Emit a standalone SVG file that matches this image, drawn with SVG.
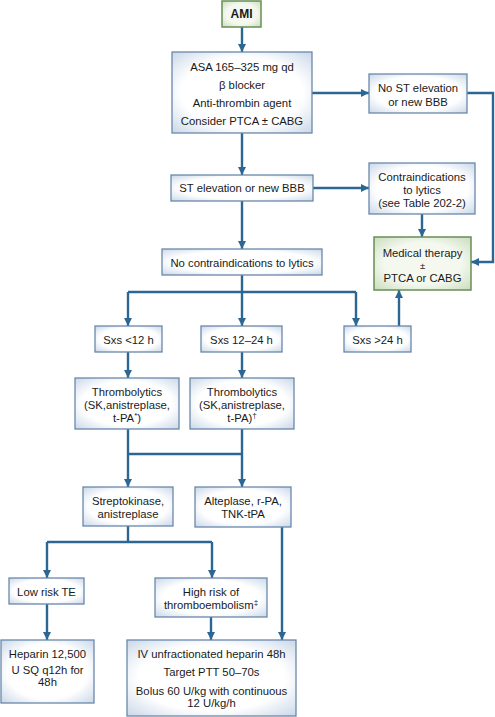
<svg xmlns="http://www.w3.org/2000/svg" width="495" height="717" viewBox="0 0 495 717">
<defs>
<radialGradient id="gb" cx="50%" cy="50%" r="72%">
<stop offset="0.6" stop-color="#ffffff"/>
<stop offset="1" stop-color="#c6d5e7"/>
</radialGradient>
<radialGradient id="gg" cx="50%" cy="50%" r="72%">
<stop offset="0.55" stop-color="#f4f8ef"/>
<stop offset="1" stop-color="#c7dbb9"/>
</radialGradient>
<marker id="ah" markerUnits="userSpaceOnUse" markerWidth="9" markerHeight="10" refX="8" refY="5" orient="auto">
<path d="M0,1 L8,5 L0,9 z" fill="#2c6794"/>
</marker>
</defs>
<style>
.b rect{fill:url(#gb);stroke:#6a88ab;stroke-width:1.3}
.g rect{fill:url(#gg);stroke:#678f55;stroke-width:1.5}
text{font-family:"Liberation Sans",Arial,sans-serif;font-size:11.3px;fill:#1a1a1a;text-anchor:middle}
.c path{fill:none;stroke:#2c6794;stroke-width:2.4}
.a{marker-end:url(#ah)}
</style>
<g class="c" id="connectors">
<path class="a" d="M242 27 V52"/>
<path class="a" d="M312 93 H369"/>
<path class="a" d="M467 93 H493 V262 H471"/>
<path class="a" d="M242 133 V175"/>
<path class="a" d="M313 188 H369"/>
<path class="a" d="M422 214 V237"/>
<path class="a" d="M242 201 V249"/>
<path d="M242 275 V292"/>
<path class="a" d="M128 292 V326"/>
<path class="a" d="M356 292 V326"/>
<path class="a" d="M242 292 V326"/>
<path d="M128 292 H356"/>
<path class="a" d="M399 326 V290"/>
<path class="a" d="M128 352 V378"/>
<path class="a" d="M242 352 V378"/>
<path class="a" d="M128 429 V487"/>
<path class="a" d="M242 429 V487"/>
<path d="M128 454 H242"/>
<path d="M128 526 V542"/>
<path class="a" d="M47 542 V578"/>
<path class="a" d="M212 542 V578"/>
<path d="M47 542 H212"/>
<path class="a" d="M47 604 V640"/>
<path class="a" d="M211 617 V640"/>
<path class="a" d="M282 527 V640"/>
</g>
<g id="ami" class="g"><rect x="222" y="1" width="39" height="26"/><text x="241.5" y="18" style="font-weight:bold;font-size:12px">AMI</text></g>
<g id="initial" class="b"><rect x="172" y="52" width="140" height="81"/>
<text x="242" y="71">ASA 165–325 mg qd</text>
<text x="242" y="89">β blocker</text>
<text x="242" y="107">Anti-thrombin agent</text>
<text x="242" y="125">Consider PTCA ± CABG</text></g>
<g id="nost" class="b"><rect x="369" y="74" width="98" height="39"/>
<text x="418" y="92">No ST elevation</text>
<text x="418" y="106">or new BBB</text></g>
<g id="st" class="b"><rect x="171" y="175" width="142" height="26"/>
<text x="242" y="192">ST elevation or new BBB</text></g>
<g id="contra" class="b"><rect x="369" y="163" width="106" height="51"/>
<text x="422" y="181">Contraindications</text>
<text x="422" y="194">to lytics</text>
<text x="422" y="207">(see Table 202-2)</text></g>
<g id="medical" class="g"><rect x="374" y="237" width="97" height="53"/>
<text x="422.5" y="257">Medical therapy</text>
<text x="422.5" y="269" style="font-size:9.5px">±</text>
<text x="422.5" y="282">PTCA or CABG</text></g>
<g id="nocontra" class="b"><rect x="162" y="249" width="160" height="26"/>
<text x="242" y="267">No contraindications to lytics</text></g>
<g id="sxs12" class="b"><rect x="95" y="326" width="67" height="26"/>
<text x="128.5" y="344">Sxs &lt;12 h</text></g>
<g id="sxs1224" class="b"><rect x="201" y="326" width="81" height="26"/>
<text x="241.5" y="344">Sxs 12–24 h</text></g>
<g id="sxs24" class="b"><rect x="344" y="326" width="67" height="26"/>
<text x="377.5" y="344">Sxs &gt;24 h</text></g>
<g id="thromb1" class="b"><rect x="75" y="378" width="104" height="51"/>
<text x="127" y="396">Thrombolytics</text>
<text x="127" y="409">(SK,anistreplase,</text>
<text x="127" y="422">t-PA<tspan font-size="8" dy="-4">*</tspan><tspan dy="4">)</tspan></text></g>
<g id="thromb2" class="b"><rect x="190" y="378" width="104" height="51"/>
<text x="242" y="396">Thrombolytics</text>
<text x="242" y="409">(SK,anistreplase,</text>
<text x="242" y="422">t-PA)<tspan font-size="8" dy="-4">†</tspan></text></g>
<g id="strepto" class="b"><rect x="83" y="487" width="90" height="39"/>
<text x="128" y="505">Streptokinase,</text>
<text x="128" y="518">anistreplase</text></g>
<g id="alteplase" class="b"><rect x="195" y="487" width="96" height="40"/>
<text x="243" y="505">Alteplase, r-PA,</text>
<text x="243" y="518">TNK-tPA</text></g>
<g id="lowrisk" class="b"><rect x="9" y="578" width="75" height="26"/>
<text x="46.5" y="596">Low risk TE</text></g>
<g id="highrisk" class="b"><rect x="155" y="578" width="112" height="39"/>
<text x="211" y="596">High risk of</text>
<text x="211" y="609">thromboembolism<tspan font-size="8" dy="-4">‡</tspan></text></g>
<g id="heparin" class="b"><rect x="1" y="640" width="93" height="63"/>
<text x="47.5" y="658">Heparin 12,500</text>
<text x="47.5" y="674">U SQ q12h for</text>
<text x="47.5" y="686">48h</text></g>
<g id="iv" class="b"><rect x="127" y="640" width="169" height="76"/>
<text x="211.5" y="658">IV unfractionated heparin 48h</text>
<text x="211.5" y="676">Target PTT 50–70s</text>
<text x="211.5" y="695">Bolus 60 U/kg with continuous</text>
<text x="211.5" y="707">12 U/kg/h</text></g>
</svg>
